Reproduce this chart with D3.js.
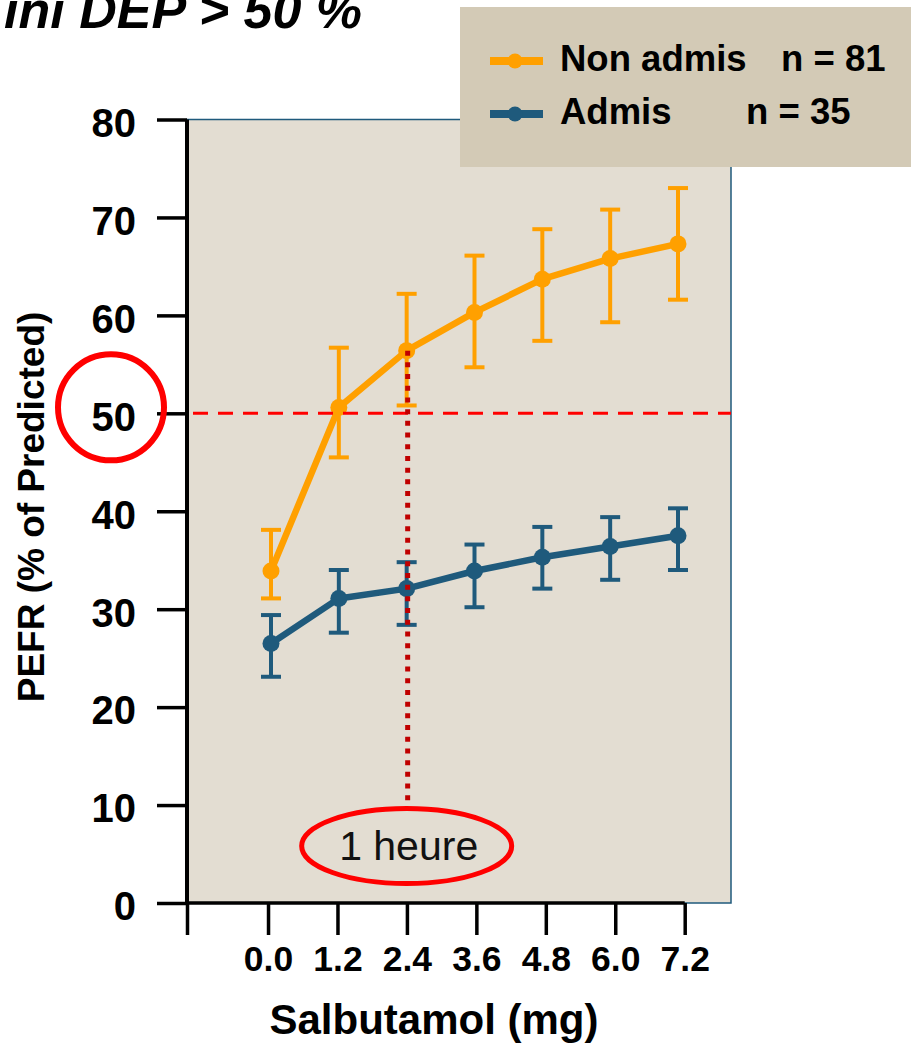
<!DOCTYPE html>
<html>
<head>
<meta charset="utf-8">
<script src="https://cdn.jsdelivr.net/npm/d3@7"></script>
<style>
body{margin:0;background:#fff;}
svg{display:block;font-family:"Liberation Sans",Arial,sans-serif;}
</style>
</head>
<body>
<svg></svg>
<script>

var doses=["0.0","1.2","2.4","3.6","4.8","6.0","7.2"]
var doseValues=[0,1.2,2.4,3.6,4.8,6.0,7.2]
var yTicks=[0,10,20,30,40,50,60,70,80]

var nonAdmisMean=[33.9,50.6,56.4,60.3,63.7,65.8,67.3]
var nonAdmisLow=[31.1,45.5,50.8,54.7,57.4,59.3,61.6]
var nonAdmisHigh=[38.1,56.7,62.2,66.1,68.8,70.8,73.0]

var admisMean=[26.5,31.1,32.1,33.9,35.3,36.4,37.5]
var admisLow=[23.1,27.6,28.4,30.2,32.1,33.0,34.0]
var admisHigh=[29.4,34.0,34.8,36.6,38.4,39.4,40.3]

var legendLabels=["Non admis","Admis"]
var legendCounts=["n = 81","n = 35"]
var threshold=50
var oneHourDose="2.4"

var screen={width:911,height:1044}
var orange="#ffa000"
var blue="#1f5a7c"

var svg=d3.select("svg")
    .attr("width",screen.width)
    .attr("height",screen.height)

var xScale=d3.scaleLinear()
    .domain([-1.4,8.0])
    .range([187,731])

// markers sit on their own point scale (slightly inside the ticks, like the original)
var pScale=d3.scalePoint()
    .domain(doses)
    .range([271,678])

var yScale=d3.scaleLinear()
    .domain([0,80])
    .range([903,119.5])

// plot background with thin blue frame
svg.append("rect")
    .attr("x",xScale(-1.4))
    .attr("y",yScale(80))
    .attr("width",xScale(8.0)-xScale(-1.4))
    .attr("height",yScale(0)-yScale(80))
    .attr("fill","#e3ddd2")
    .attr("stroke",blue)
    .attr("stroke-width",1.5)

// axes
var yAxis=d3.axisLeft(yScale)
    .tickValues(yTicks)
    .tickSize(30)
    .tickPadding(21)

var gy=svg.append("g")
    .attr("transform","translate("+xScale(-1.4)+",0)")
    .call(yAxis)
gy.select(".domain").remove()
gy.selectAll(".tick line").attr("stroke","#000").attr("stroke-width",3.5)
gy.selectAll(".tick text")
    .attr("font-size",40)
    .attr("font-weight","bold")
    .attr("fill","#000")
    .attr("dy","0.42em")

var xAxis=d3.axisBottom(xScale)
    .tickValues([-1.4].concat(doseValues))
    .tickSize(32)
    .tickPadding(11)
    .tickFormat(function(d){return d<0?"":d3.format(".1f")(d)})

var gx=svg.append("g")
    .attr("transform","translate(0,"+yScale(0)+")")
    .call(xAxis)
gx.select(".domain").remove()
gx.selectAll(".tick line").attr("stroke","#000").attr("stroke-width",3.5)
gx.selectAll(".tick text")
    .attr("font-size",35.5)
    .attr("font-weight","bold")
    .attr("fill","#000")

svg.append("line")
    .attr("x1",xScale(-1.4)).attr("x2",xScale(-1.4))
    .attr("y1",yScale(80)).attr("y2",yScale(0))
    .attr("stroke","#000").attr("stroke-width",4)

svg.append("line")
    .attr("x1",xScale(-1.4)).attr("x2",xScale(7.2))
    .attr("y1",yScale(0)).attr("y2",yScale(0))
    .attr("stroke","#000").attr("stroke-width",3.5)

// axis titles
svg.append("text")
    .attr("transform","translate(44,507) rotate(-90)")
    .attr("text-anchor","middle")
    .attr("font-size",37)
    .attr("font-weight","bold")
    .text("PEFR (% of Predicted)")

svg.append("text")
    .attr("x",434)
    .attr("y",1034)
    .attr("text-anchor","middle")
    .attr("font-size",42)
    .attr("font-weight","bold")
    .text("Salbutamol (mg)")

// series
var drawSeries=function(mean,low,high,color)
{
    var g=svg.append("g")
    var pts=doses.map(function(d,i){return {dose:d,m:mean[i],lo:low[i],hi:high[i]}})

    var bars=g.selectAll(".bar")
        .data(pts)
        .enter()
        .append("g")

    bars.append("line")
        .attr("x1",function(p){return pScale(p.dose)})
        .attr("x2",function(p){return pScale(p.dose)})
        .attr("y1",function(p){return yScale(p.lo)})
        .attr("y2",function(p){return yScale(p.hi)})
        .attr("stroke",color).attr("stroke-width",4)

    bars.selectAll(".cap")
        .data(function(p){return [p.lo,p.hi].map(function(v){return {dose:p.dose,v:v}})})
        .enter()
        .append("line")
        .attr("x1",function(c){return pScale(c.dose)-10})
        .attr("x2",function(c){return pScale(c.dose)+10})
        .attr("y1",function(c){return yScale(c.v)})
        .attr("y2",function(c){return yScale(c.v)})
        .attr("stroke",color).attr("stroke-width",4)

    var line=d3.line()
        .x(function(p){return pScale(p.dose)})
        .y(function(p){return yScale(p.m)})

    g.append("path")
        .datum(pts)
        .attr("d",line)
        .attr("fill","none")
        .attr("stroke",color)
        .attr("stroke-width",6.5)
        .attr("stroke-linejoin","round")

    g.selectAll("circle")
        .data(pts)
        .enter()
        .append("circle")
        .attr("cx",function(p){return pScale(p.dose)})
        .attr("cy",function(p){return yScale(p.m)})
        .attr("r",8.5)
        .attr("fill",color)
}

drawSeries(admisMean,admisLow,admisHigh,blue)
drawSeries(nonAdmisMean,nonAdmisLow,nonAdmisHigh,orange)

// threshold and 1 hour marks
svg.append("line")
    .attr("x1",xScale(-1.4)+6).attr("x2",xScale(8.0))
    .attr("y1",yScale(threshold)).attr("y2",yScale(threshold))
    .attr("stroke","#ff0000").attr("stroke-width",3)
    .attr("stroke-dasharray","15,10")

var hourIndex=doses.indexOf(oneHourDose)
svg.append("line")
    .attr("x1",pScale(oneHourDose)+1).attr("x2",pScale(oneHourDose)+1)
    .attr("y1",yScale(nonAdmisMean[hourIndex])).attr("y2",808)
    .attr("stroke","#c00000").attr("stroke-width",5)
    .attr("stroke-dasharray","5,6.7")

svg.append("circle")
    .attr("cx",111).attr("cy",yScale(threshold)-6)
    .attr("r",53)
    .attr("fill","none")
    .attr("stroke","#ff0000").attr("stroke-width",6)

svg.append("ellipse")
    .attr("cx",pScale(oneHourDose)).attr("cy",846)
    .attr("rx",105).attr("ry",37.5)
    .attr("fill","none")
    .attr("stroke","#ff0000").attr("stroke-width",5)

svg.append("text")
    .attr("x",pScale(oneHourDose)+2)
    .attr("y",860)
    .attr("text-anchor","middle")
    .attr("font-size",41)
    .attr("fill","#111")
    .text("1 heure")

// title (cut at the top-left edge, as on the original slide)
svg.append("text")
    .attr("x",362)
    .attr("y",28)
    .attr("text-anchor","end")
    .attr("font-size",52)
    .attr("font-weight","bold")
    .attr("font-style","italic")
    .text("ini DEP > 50 %")

// legend
var legend=svg.append("g")
legend.append("rect")
    .attr("x",460).attr("y",7)
    .attr("width",460).attr("height",160)
    .attr("fill","#d3cab6")

var legendY=[61,114]
var legendColors=[orange,blue]
var countX=[781,746]

legendLabels.forEach(function(lab,i)
{
    legend.append("line")
        .attr("x1",490).attr("x2",543)
        .attr("y1",legendY[i]).attr("y2",legendY[i])
        .attr("stroke",legendColors[i]).attr("stroke-width",8)
    legend.append("circle")
        .attr("cx",515).attr("cy",legendY[i])
        .attr("r",7.5)
        .attr("fill",legendColors[i])
    legend.append("text")
        .attr("x",560).attr("y",legendY[i]+10)
        .attr("font-size",36.5)
        .attr("font-weight","bold")
        .text(lab)
    legend.append("text")
        .attr("x",countX[i]).attr("y",legendY[i]+10)
        .attr("font-size",36.5)
        .attr("font-weight","bold")
        .text(legendCounts[i])
})

</script>
</body>
</html>
